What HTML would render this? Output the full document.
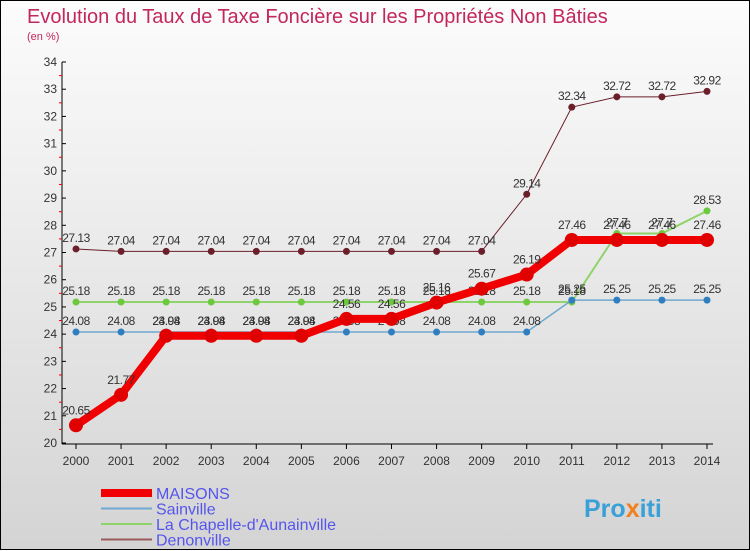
<!DOCTYPE html>
<html><head><meta charset="utf-8"><style>
body{margin:0}
#c{width:750px;height:550px;position:relative;background:linear-gradient(#fcfcfc,#d4d4d4);border:1px solid #000;box-sizing:border-box;font-family:"Liberation Sans","DejaVu Sans",sans-serif}
</style></head><body>
<div id="c">
<svg id="s" width="750" height="550" style="position:absolute;left:0;top:0">
<text x="26" y="22" font-size="20" fill="#c2275e">Evolution du Taux de Taxe Foncière sur les Propriétés Non Bâties</text>
<text x="26" y="39" font-size="11" fill="#c2275e">(en %)</text>
<text x="583" y="516" font-size="25" font-weight="bold" fill="#3aa0d8">Pro<tspan fill="#f08020">x</tspan>iti</text>
</svg>
</div>
<script>
const years=[2000,2001,2002,2003,2004,2005,2006,2007,2008,2009,2010,2011,2012,2013,2014];
const maisons=[20.65,21.77,23.94,23.94,23.94,23.94,24.56,24.56,25.16,25.67,26.19,27.46,27.46,27.46,27.46];
const sainville=[24.08,24.08,24.08,24.08,24.08,24.08,24.08,24.08,24.08,24.08,24.08,25.25,25.25,25.25,25.25];
const chapelle=[25.18,25.18,25.18,25.18,25.18,25.18,25.18,25.18,25.18,25.18,25.18,25.18,27.7,27.7,28.53];
const denonville=[27.13,27.04,27.04,27.04,27.04,27.04,27.04,27.04,27.04,27.04,29.14,32.34,32.72,32.72,32.92];
const yTicks=[20,21,22,23,24,25,26,27,28,29,30,31,32,33,34];
const NS='http://www.w3.org/2000/svg',s=document.getElementById('s');
const X=i=>75+i*(706-75)/(years.length-1), Y=v=>442-(v-20)*(442-61)/14;
function mk(t,a,txt){const e=document.createElementNS(NS,t);for(const k in a)e.setAttribute(k,a[k]);if(txt!==undefined)e.textContent=txt;s.appendChild(e);return e;}
let e=mk('line',{x1:61,y1:61,x2:61,y2:443,stroke:'#000'});

e=mk('line',{x1:61,y1:443,x2:712,y2:443,stroke:'#000'});

yTicks.forEach(v=>{mk('line',{x1:61,y1:Y(v),x2:65,y2:Y(v),stroke:'#000'});
 if(v<34)mk('line',{x1:58,y1:Y(v+0.5),x2:61,y2:Y(v+0.5),stroke:'#e00'});
 e=mk('text',{x:56,y:Y(v)+4,'font-size':12,fill:'#333','text-anchor':'end'},v);
 });
years.forEach((y,i)=>{mk('line',{x1:X(i),y1:443,x2:X(i),y2:448,stroke:'#000'});
 e=mk('text',{x:X(i),y:464,'font-size':12,fill:'#333','text-anchor':'middle'},y);
 });
const series=[[denonville,'#6b1f2a',1,3.5,'denonville'],[chapelle,'#8fd46a',2,3.5,'chapelle'],[sainville,'#6fa8d0',1.5,3.5,'sainville'],[maisons,'#f00000',8,7,'maisons']];
const dot={denonville:'#6b1f2a',chapelle:'#6cc83c',sainville:'#2f7fc0',maisons:'#e00000'};
series.forEach(([d,c,w,r,n])=>{
 e=mk('polyline',{points:d.map((v,i)=>X(i)+','+Y(v)).join(' '),fill:'none',stroke:c,'stroke-width':w});
 
 d.forEach((v,i)=>{e=mk('circle',{cx:X(i),cy:Y(v),r:r,fill:dot[n]});
  
  e=mk('text',{x:X(i),y:Y(v)-(n=='maisons'?11:7),'font-size':12,fill:'#333','text-anchor':'middle','letter-spacing':'-0.5'},String(v));
  });
});
const leg=[['MAISONS','#f00000',8],['Sainville','#6fa8d0',2],["La Chapelle-d'Aunainville",'#8fd46a',2],['Denonville','#9a5a5a',2]];
leg.forEach(([t,c,w],i)=>{const y=492+i*15.5;
 e=mk('line',{x1:100,y1:y,x2:151,y2:y,stroke:c,'stroke-width':w});
 
 e=mk('text',{x:155,y:y+6,'font-size':16,fill:'#5555ee'},t);
 });
</script>
</body></html>
